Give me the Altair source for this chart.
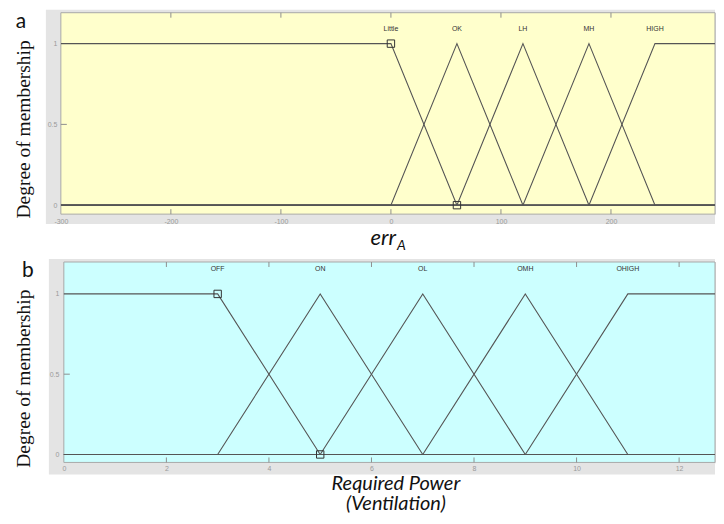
import altair as alt
import pandas as pd

# ---------- panel a : err_A ----------
err_names = ["Little", "OK", "LH", "MH", "HIGH"]
err_x = [[-300, 0, 60, 300],
         [-300, 0, 60, 120, 300],
         [-300, 60, 120, 180, 300],
         [-300, 120, 180, 240, 300],
         [-300, 180, 240, 300]]
err_y = [[1, 1, 0, 0],
         [0, 0, 1, 0, 0],
         [0, 0, 1, 0, 0],
         [0, 0, 1, 0, 0],
         [0, 0, 1, 1]]
err_label_x = [0, 60, 120, 180, 240]
err_marker_x = [0, 60]
err_marker_y = [1, 0]
err_ticks = [-300, -200, -100, 0, 100, 200]

# ---------- panel b : Required Power ----------
pow_names = ["OFF", "ON", "OL", "OMH", "OHIGH"]
pow_x = [[0, 3, 5, 14],
         [0, 3, 5, 7, 14],
         [0, 5, 7, 9, 14],
         [0, 7, 9, 11, 14],
         [0, 9, 11, 14]]
pow_y = [[1, 1, 0, 0],
         [0, 0, 1, 0, 0],
         [0, 0, 1, 0, 0],
         [0, 0, 1, 0, 0],
         [0, 0, 1, 1]]
pow_label_x = [3, 5, 7, 9, 11]
pow_marker_x = [3, 5]
pow_marker_y = [1, 0]
pow_ticks = [0, 2, 4, 6, 8, 10, 12]

y_ticks = [0, 0.5, 1]

LINE = "#555555"
TICK = "#8f8f8f"
LAB = "#9a9a9a"
W = 656


def panel(names, xs, ys, label_x, mk_x, mk_y, xticks, xdomain, x0,
          ydomain, H, bg, letter, letter_x, gray_bottom, title_layers,
          label_y, label_pad_y, label_pad_x):
    rows = []
    for n, xx, yy in zip(names, xs, ys):
        for i, (a, b) in enumerate(zip(xx, yy)):
            rows.append({"mf": n, "x": a, "y": b, "o": i})
    lines_df = pd.DataFrame(rows)
    lab_df = pd.DataFrame({"name": names, "x": label_x})
    mk_df = pd.DataFrame({"x": mk_x, "y": mk_y})
    inner = [t for t in xticks if xdomain[0] < t < xdomain[1]]
    tick_df = pd.DataFrame({"x": inner})
    ytick_df = pd.DataFrame({"y": [0.5]})
    one = pd.DataFrame({"k": [0]})

    X = alt.X("x:Q",
              scale=alt.Scale(domain=xdomain, range=[x0, W], nice=False, zero=False),
              axis=alt.Axis(values=xticks, title=None, domain=False, ticks=False,
                            tickSize=0, grid=False, labelPadding=label_pad_x,
                            labelFontSize=7, labelColor=LAB,
                            labelFont="Liberation Sans",
                            labelFlush=False, labelOverlap=False, zindex=1,
                            labelExpr="'' + datum.value"))
    Y = alt.Y("y:Q",
              scale=alt.Scale(domain=ydomain, nice=False, zero=False),
              axis=alt.Axis(values=y_ticks, title=None, domain=False, ticks=False,
                            tickSize=0, grid=False, labelPadding=label_pad_y,
                            labelFontSize=7, labelColor=LAB,
                            labelFont="Liberation Sans", zindex=1,
                            labelOverlap=False, labelExpr="'' + datum.value"))

    white = alt.Chart(one).mark_rect(fill="white").encode(
        x=alt.value(-52), x2=alt.value(W), y=alt.value(-3), y2=alt.value(H + 13))
    gray = alt.Chart(one).mark_rect(fill="#e4e4e4").encode(
        x=alt.value(x0 - 15), x2=alt.value(W), y=alt.value(-3), y2=alt.value(gray_bottom))
    bgr = alt.Chart(one).mark_rect(fill=bg, stroke="#a9a9a9", strokeWidth=1).encode(
        x=alt.value(x0), x2=alt.value(W), y=alt.value(0), y2=alt.value(H))
    t_top = alt.Chart(tick_df).mark_rule(color=TICK, strokeWidth=1).encode(
        x=X, y=alt.value(0), y2=alt.value(5))
    t_bot = alt.Chart(tick_df).mark_rule(color=TICK, strokeWidth=1).encode(
        x=X, y=alt.value(H), y2=alt.value(H - 5))
    t_y = alt.Chart(ytick_df).mark_rule(color=TICK, strokeWidth=1).encode(
        y=Y, x=alt.value(x0), x2=alt.value(x0 + 6))
    lines = alt.Chart(lines_df).mark_line(color=LINE, strokeWidth=1.1, clip=True).encode(
        x=X, y=Y, detail="mf:N", order="o:Q")
    marks = alt.Chart(mk_df).mark_point(shape="square", filled=False, size=55,
                                        color="#333333", strokeWidth=1, opacity=1).encode(
        x=X, y=Y)
    labels = alt.Chart(lab_df).mark_text(fontSize=7, color="#333333", baseline="middle",
                                         font="Liberation Sans").encode(
        x=X, y=alt.value(label_y), text="name:N")
    let = alt.Chart(one).mark_text(text=letter, font="Lato", fontSize=21, color="#111111",
                                   align="center", baseline="alphabetic").encode(
        x=alt.value(letter_x), y=alt.value(15))
    ytitle = alt.Chart(one).mark_text(text="Degree of membership", font="Liberation Serif",
                                      fontSize=19.5, angle=270, align="center",
                                      baseline="middle", color="#111111").encode(
        x=alt.value(-37), y=alt.value(117))
    extra = [alt.Chart(one).mark_text(**kw).encode(x=alt.value(px), y=alt.value(py))
             for kw, px, py in title_layers]
    return alt.layer(white, gray, bgr, t_top, t_bot, t_y, lines, marks, labels,
                     let, ytitle, *extra).properties(width=W, height=H)


# x domains cover only the visible part of each axis (the page clips the right side)
top = panel(err_names, err_x, err_y, err_label_x, err_marker_x, err_marker_y,
            err_ticks, [-300, 294.56], 0, [-0.0556, 1.1914], 202,
            "#ffffcc", "a", -40, 212,
            [(dict(text="err", font="Lato", fontStyle="italic", fontSize=22,
                   align="right", baseline="alphabetic", color="#111111"), 336, 233),
             (dict(text="A", font="Lato", fontStyle="italic", fontSize=14,
                   align="left", baseline="alphabetic", color="#111111"), 337, 238)],
            16, 4, 3)

bottom = panel(pow_names, pow_x, pow_y, pow_label_x, pow_marker_x, pow_marker_y,
               pow_ticks, [0, 12.70], 3, [-0.0497, 1.1988], 201,
               "#ccffff", "b", -33, 213,
               [(dict(text="Required Power", font="Lato", fontStyle="italic", fontSize=20,
                      align="center", baseline="alphabetic", color="#111111"), 336, 229),
                (dict(text="(Ventilation)", font="Lato", fontStyle="italic", fontSize=20,
                      align="center", baseline="alphabetic", color="#111111"), 336, 249)],
               7, 2, 2)

chart = alt.vconcat(top, bottom, spacing=48, bounds="flush").properties(
    padding=0).configure_view(strokeWidth=0).configure(background="white")

chart.save("out.html", embed_options={"renderer": "svg", "actions": False})
